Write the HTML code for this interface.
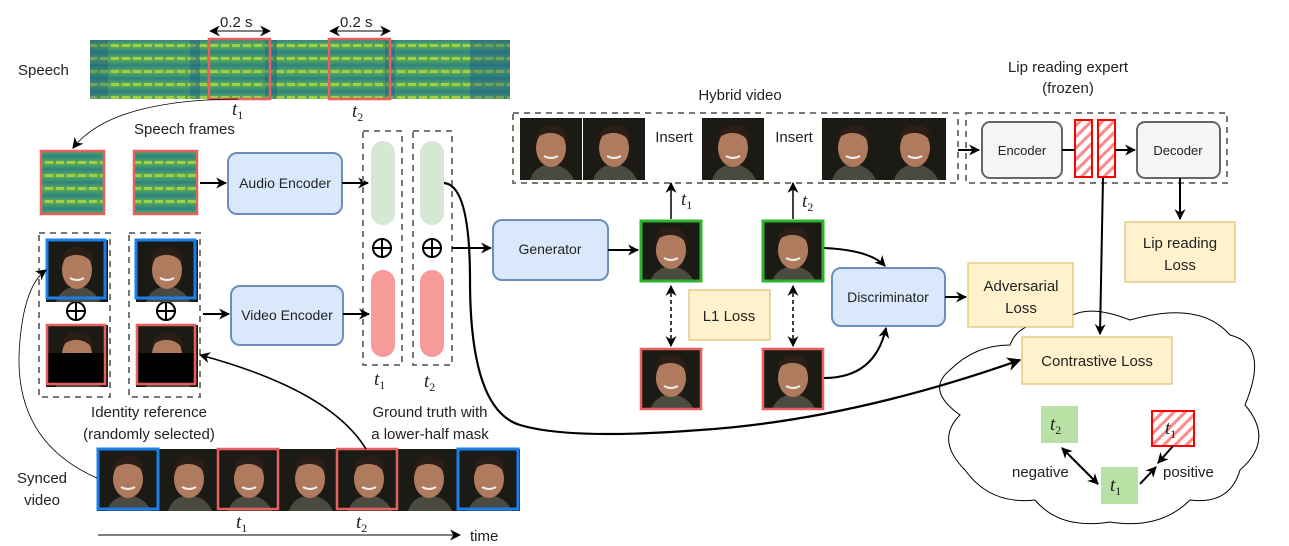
<!DOCTYPE html>
<html><head><meta charset="utf-8"><style>
html,body{margin:0;padding:0;background:#fff}
svg{display:block}
text{font-family:"Liberation Sans",sans-serif;font-size:15px;fill:#222}
.m{font-family:"Liberation Serif",serif;font-style:italic;font-size:19px}
.s{font-family:"Liberation Serif",serif;font-style:normal;font-size:12px}
</style></head><body>
<svg width="1289" height="546" viewBox="0 0 1289 546" xmlns="http://www.w3.org/2000/svg">
<defs>
<marker id="a" viewBox="0 0 10 10" refX="9" refY="5" markerWidth="11" markerHeight="11" markerUnits="userSpaceOnUse" orient="auto-start-reverse"><path d="M0,0 L10,5 L0,10 L3,5z" fill="#000"/></marker>
<marker id="b" viewBox="0 0 10 10" refX="9" refY="5" markerWidth="14" markerHeight="14" markerUnits="userSpaceOnUse" orient="auto-start-reverse"><path d="M0,0 L10,5 L0,10 L3,5z" fill="#000"/></marker>
<linearGradient id="sg" x1="0" y1="0" x2="0" y2="1"><stop offset="0" stop-color="#2a7f86"/><stop offset="0.5" stop-color="#5fae55"/><stop offset="1" stop-color="#2f8a78"/></linearGradient>
<pattern id="sp" width="11" height="13" patternUnits="userSpaceOnUse"><rect width="11" height="13" fill="url(#sg)"/><rect x="1" y="5" width="8" height="3" fill="#b8dc3c" opacity="0.75"/></pattern>
<pattern id="h" width="8" height="8" patternUnits="userSpaceOnUse" patternTransform="rotate(45)"><rect width="8" height="8" fill="#fff"/><rect width="3" height="8" fill="#f88"/></pattern>
<g id="face"><rect width="62" height="62" fill="#1c1a14"/><path d="M10,62 Q14,48 31,46 Q48,48 54,62z" fill="#4a4a40"/><ellipse cx="31" cy="30" rx="15" ry="19" fill="#b07a5e"/><path d="M15,22 Q18,6 33,7 Q47,8 47,24 Q40,14 28,15 Q20,16 15,22z" fill="#2a1e16"/><path d="M24,38 Q31,42 38,38" stroke="#eee" stroke-width="2" fill="none"/></g>
</defs>

<!-- cloud (behind) -->
<path d="M1010,345 Q1020,318 1060,325 Q1080,300 1130,320 Q1200,300 1230,335 Q1270,345 1245,405 Q1275,440 1240,470 Q1230,505 1190,500 Q1160,530 1110,522 Q1060,530 1035,500 Q990,505 965,470 Q935,440 960,415 Q925,390 950,370 Q975,345 1010,345z" fill="#fff" stroke="#000"/>

<!-- speech -->
<text x="18" y="75">Speech</text>
<rect x="90" y="40" width="420" height="59" fill="url(#sp)"/>
<g fill="#1a4f8a" opacity="0.35"><rect x="90" y="40" width="18" height="59"/><rect x="190" y="40" width="10" height="59"/><rect x="265" y="40" width="12" height="59"/><rect x="385" y="40" width="10" height="59"/><rect x="470" y="40" width="40" height="59"/></g>
<rect x="209" y="39" width="61" height="60" fill="none" stroke="#e85f5f" stroke-width="2.5"/>
<rect x="329" y="39" width="61" height="60" fill="none" stroke="#e85f5f" stroke-width="2.5"/>
<line x1="210" y1="31" x2="270" y2="31" stroke="#000" marker-start="url(#a)" marker-end="url(#a)"/>
<line x1="330" y1="31" x2="390" y2="31" stroke="#000" marker-start="url(#a)" marker-end="url(#a)"/>
<text x="220" y="27">0.2 s</text><text x="340" y="27">0.2 s</text>
<text class="m" x="232" y="115">t<tspan class="s" dy="4">1</tspan></text>
<text class="m" x="352" y="117">t<tspan class="s" dy="4">2</tspan></text>
<path d="M238,99 Q110,100 73,148" fill="none" stroke="#000" stroke-width="0.8" marker-end="url(#a)"/>
<text x="134" y="134">Speech frames</text>
<rect x="41" y="151" width="63" height="63" fill="url(#sp)" stroke="#e85f5f" stroke-width="2.5"/>
<rect x="134" y="151" width="63" height="63" fill="url(#sp)" stroke="#e85f5f" stroke-width="2.5"/>
<line x1="200" y1="183" x2="226" y2="183" stroke="#000" stroke-width="2" marker-end="url(#a)"/>
<rect x="228" y="153" width="114" height="61" rx="9" fill="#dae8fc" stroke="#6c8ebf" stroke-width="2"/>
<text x="285" y="188" text-anchor="middle" style="font-size:14px">Audio Encoder</text>
<line x1="342" y1="183" x2="368" y2="183" stroke="#000" stroke-width="2" marker-end="url(#a)"/>

<!-- columns -->
<g fill="none" stroke="#777" stroke-width="2" stroke-dasharray="6,5">
<rect x="363" y="131" width="39" height="234"/><rect x="413" y="131" width="39" height="234"/>
<rect x="39" y="233" width="71" height="164"/><rect x="129" y="233" width="71" height="164"/>
<rect x="513" y="113" width="445" height="70"/><rect x="966" y="113" width="261" height="70"/>
</g>
<rect x="371" y="141" width="24" height="84" rx="12" fill="#d5e8d4"/>
<rect x="420" y="141" width="24" height="84" rx="12" fill="#d5e8d4"/>
<rect x="371" y="270" width="24" height="87" rx="12" fill="#f8999a"/>
<rect x="420" y="270" width="24" height="87" rx="12" fill="#f8999a"/>
<g fill="none" stroke="#000" stroke-width="2">
<circle cx="382" cy="248" r="9"/><path d="M373,248h18M382,239v18"/>
<circle cx="432" cy="248" r="9"/><path d="M423,248h18M432,239v18"/>
<circle cx="76" cy="311" r="9"/><path d="M67,311h18M76,302v18"/>
<circle cx="166" cy="311" r="9"/><path d="M157,311h18M166,302v18"/>
</g>
<text class="m" x="374" y="385">t<tspan class="s" dy="4">1</tspan></text>
<text class="m" x="424" y="387">t<tspan class="s" dy="4">2</tspan></text>

<!-- identity -->
<use href="#face" x="46" y="240"/><rect x="47" y="240" width="58" height="58" fill="none" stroke="#1a7fe8" stroke-width="3"/>
<use href="#face" x="136" y="240"/><rect x="136" y="240" width="59" height="58" fill="none" stroke="#1a7fe8" stroke-width="3"/>
<use href="#face" x="46" y="325"/><rect x="47" y="353" width="58" height="31" fill="#000"/><rect x="47" y="325" width="58" height="59" fill="none" stroke="#e85f5f" stroke-width="2.5"/>
<use href="#face" x="136" y="325"/><rect x="137" y="353" width="58" height="31" fill="#000"/><rect x="137" y="325" width="58" height="59" fill="none" stroke="#e85f5f" stroke-width="2.5"/>
<line x1="203" y1="314" x2="229" y2="314" stroke="#000" stroke-width="2" marker-end="url(#a)"/>
<rect x="231" y="286" width="112" height="59" rx="9" fill="#dae8fc" stroke="#6c8ebf" stroke-width="2"/>
<text x="287" y="320" text-anchor="middle" style="font-size:14px">Video Encoder</text>
<line x1="343" y1="314" x2="369" y2="314" stroke="#000" stroke-width="2" marker-end="url(#a)"/>
<text x="149" y="417" text-anchor="middle">Identity reference</text>
<text x="149" y="439" text-anchor="middle">(randomly selected)</text>
<text x="430" y="417" text-anchor="middle">Ground truth with</text>
<text x="430" y="439" text-anchor="middle">a lower-half mask</text>

<!-- synced video -->
<text x="42" y="483" text-anchor="middle">Synced</text><text x="42" y="505" text-anchor="middle">video</text>
<use href="#face" x="97" y="449"/><use href="#face" x="158" y="449"/><use href="#face" x="218" y="449"/><use href="#face" x="279" y="449"/><use href="#face" x="338" y="449"/><use href="#face" x="398" y="449"/><use href="#face" x="458" y="449"/>
<rect x="98" y="449" width="60" height="60" fill="none" stroke="#1a7fe8" stroke-width="3"/>
<rect x="218" y="449" width="60" height="60" fill="none" stroke="#e85f5f" stroke-width="2.5"/>
<rect x="337" y="449" width="60" height="60" fill="none" stroke="#e85f5f" stroke-width="2.5"/>
<rect x="458" y="449" width="60" height="60" fill="none" stroke="#1a7fe8" stroke-width="3"/>
<text class="m" x="236" y="528">t<tspan class="s" dy="4">1</tspan></text>
<text class="m" x="356" y="528">t<tspan class="s" dy="4">2</tspan></text>
<line x1="98" y1="535" x2="460" y2="535" stroke="#000" marker-end="url(#a)"/>
<text x="470" y="541">time</text>
<path d="M97,478 Q10,440 20,340 Q25,285 46,270" fill="none" stroke="#000" stroke-width="0.8" marker-end="url(#a)"/>
<path d="M366,449 Q330,390 200,355" fill="none" stroke="#000" stroke-width="1.6" marker-end="url(#a)"/>

<!-- generator and long curve -->
<line x1="452" y1="248" x2="491" y2="248" stroke="#000" stroke-width="2" marker-end="url(#a)"/>
<path d="M444,183 Q470,185 470,280 Q470,410 520,425 Q570,440 700,430 Q850,420 1020,360" fill="none" stroke="#000" stroke-width="2.2" marker-end="url(#b)"/>
<rect x="493" y="220" width="115" height="60" rx="9" fill="#dae8fc" stroke="#6c8ebf" stroke-width="2"/>
<text x="550" y="254" text-anchor="middle" style="font-size:14px">Generator</text>
<line x1="608" y1="250" x2="638" y2="250" stroke="#000" stroke-width="2" marker-end="url(#a)"/>
<use href="#face" x="640" y="220"/><rect x="641" y="221" width="60" height="60" fill="none" stroke="#2cb52c" stroke-width="3"/>
<use href="#face" x="762" y="220"/><rect x="763" y="221" width="60" height="60" fill="none" stroke="#2cb52c" stroke-width="3"/>
<use href="#face" x="640" y="348"/><rect x="641" y="349" width="60" height="60" fill="none" stroke="#e85f5f" stroke-width="2.5"/>
<use href="#face" x="762" y="348"/><rect x="763" y="349" width="60" height="60" fill="none" stroke="#e85f5f" stroke-width="2.5"/>
<line x1="671" y1="219" x2="671" y2="183" stroke="#000" stroke-width="1.5" marker-end="url(#a)"/>
<line x1="793" y1="219" x2="793" y2="183" stroke="#000" stroke-width="1.5" marker-end="url(#a)"/>
<text class="m" x="681" y="205">t<tspan class="s" dy="4">1</tspan></text>
<text class="m" x="802" y="207">t<tspan class="s" dy="4">2</tspan></text>
<line x1="671" y1="286" x2="671" y2="346" stroke="#000" stroke-width="1.5" stroke-dasharray="4,3" marker-start="url(#a)" marker-end="url(#a)"/>
<line x1="793" y1="286" x2="793" y2="346" stroke="#000" stroke-width="1.5" stroke-dasharray="4,3" marker-start="url(#a)" marker-end="url(#a)"/>
<rect x="689" y="290" width="81" height="50" fill="#fff2cc" stroke="#d6b656"/>
<text x="729" y="321" text-anchor="middle">L1 Loss</text>

<!-- hybrid -->
<text x="740" y="100" text-anchor="middle">Hybrid video</text>
<use href="#face" x="520" y="118"/><use href="#face" x="583" y="118"/><use href="#face" x="702" y="118"/><use href="#face" x="822" y="118"/><use href="#face" x="884" y="118"/>
<text x="674" y="142" text-anchor="middle">Insert</text>
<text x="794" y="142" text-anchor="middle">Insert</text>
<line x1="958" y1="150" x2="979" y2="150" stroke="#000" stroke-width="2" marker-end="url(#a)"/>

<!-- lip reading -->
<text x="1068" y="72" text-anchor="middle">Lip reading expert</text>
<text x="1068" y="93" text-anchor="middle">(frozen)</text>
<rect x="982" y="122" width="80" height="56" rx="8" fill="#f5f5f5" stroke="#666" stroke-width="2"/>
<text x="1022" y="155" text-anchor="middle" style="font-size:13px" fill="#333">Encoder</text>
<rect x="1075" y="120" width="17" height="57" fill="url(#h)" stroke="#f00" stroke-width="2"/>
<rect x="1098" y="120" width="17" height="57" fill="url(#h)" stroke="#f00" stroke-width="2"/>
<line x1="1115" y1="150" x2="1135" y2="150" stroke="#000" stroke-width="2" marker-end="url(#a)"/>
<line x1="1062" y1="150" x2="1075" y2="150" stroke="#000" stroke-width="2"/>
<rect x="1137" y="122" width="83" height="56" rx="8" fill="#f5f5f5" stroke="#666" stroke-width="2"/>
<text x="1178" y="155" text-anchor="middle" style="font-size:13px">Decoder</text>
<line x1="1180" y1="178" x2="1180" y2="219" stroke="#000" stroke-width="2" marker-end="url(#a)"/>
<rect x="1125" y="222" width="110" height="60" fill="#fff2cc" stroke="#d6b656"/>
<text x="1180" y="248" text-anchor="middle">Lip reading</text>
<text x="1180" y="270" text-anchor="middle">Loss</text>
<line x1="1103" y1="178" x2="1100" y2="334" stroke="#000" stroke-width="2" marker-end="url(#a)"/>

<!-- discriminator -->
<path d="M824,248 Q870,250 885,266" fill="none" stroke="#000" stroke-width="2" marker-end="url(#a)"/>
<path d="M824,378 Q875,378 886,328" fill="none" stroke="#000" stroke-width="2" marker-end="url(#a)"/>
<rect x="832" y="268" width="113" height="58" rx="9" fill="#dae8fc" stroke="#6c8ebf" stroke-width="2"/>
<text x="888" y="302" text-anchor="middle" style="font-size:14px">Discriminator</text>
<line x1="945" y1="297" x2="966" y2="297" stroke="#000" stroke-width="2" marker-end="url(#a)"/>

<rect x="968" y="263" width="105" height="64" fill="#fff2cc" stroke="#d6b656"/>
<text x="1021" y="291" text-anchor="middle">Adversarial</text>
<text x="1021" y="313" text-anchor="middle">Loss</text>
<rect x="1022" y="337" width="150" height="47" fill="#fff2cc" stroke="#d6b656"/>
<text x="1097" y="366" text-anchor="middle">Contrastive Loss</text>
<rect x="1041" y="406" width="37" height="37" fill="#b9e0a5"/>
<text class="m" x="1050" y="430">t<tspan class="s" dy="4">2</tspan></text>
<rect x="1101" y="467" width="37" height="37" fill="#b9e0a5"/>
<text class="m" x="1110" y="491">t<tspan class="s" dy="4">1</tspan></text>
<rect x="1152" y="411" width="42" height="35" fill="url(#h)" stroke="#f00" stroke-width="2"/>
<text class="m" x="1165" y="434">t<tspan class="s" dy="4">1</tspan></text>
<line x1="1062" y1="448" x2="1098" y2="484" stroke="#000" stroke-width="2" marker-start="url(#a)" marker-end="url(#a)"/>
<line x1="1140" y1="484" x2="1156" y2="467" stroke="#000" stroke-width="2" marker-end="url(#a)"/>
<line x1="1173" y1="446" x2="1158" y2="463" stroke="#000" stroke-width="2" marker-end="url(#a)"/>
<text x="1012" y="477">negative</text>
<text x="1163" y="477">positive</text>
</svg>
</body></html>
